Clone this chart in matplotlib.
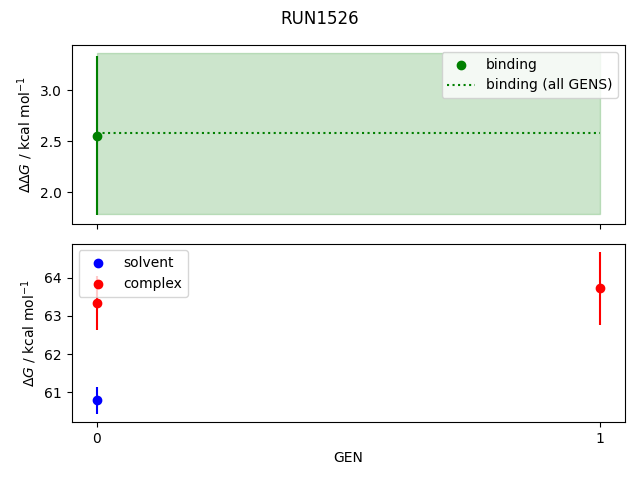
import matplotlib
matplotlib.use("Agg")
import matplotlib.pyplot as plt
import numpy as np

gens = [0, 1]
binding_gen = [0]
binding = [2.555]
binding_err = [0.785]
binding_all = 2.577
binding_all_err = 0.79

solvent_gen = [0]
solvent = [60.79]
solvent_err = [0.35]

complex_gen = [0, 1]
complex_ = [63.33, 63.72]
complex_err = [0.71, 0.96]

fig, (ax1, ax2) = plt.subplots(2, 1, sharex=True, figsize=(6.4, 4.8), dpi=100)
fig.suptitle("RUN1526")

ax1.scatter(binding_gen, binding, color="green", label="binding")
ax1.errorbar(binding_gen, binding, yerr=binding_err, color="green", fmt="none")
ax1.hlines(binding_all, gens[0], gens[-1], color="green", linestyle=":", label="binding (all GENS)")
ax1.fill_between(gens, binding_all - binding_all_err, binding_all + binding_all_err, color="green", alpha=0.2)
ax1.set_ylabel(r"$\Delta\Delta G$ / kcal mol$^{-1}$")
ax1.legend(loc="upper right")

ax2.scatter(solvent_gen, solvent, color="blue", label="solvent")
ax2.errorbar(solvent_gen, solvent, yerr=solvent_err, color="blue", fmt="none")
ax2.scatter(complex_gen, complex_, color="red", label="complex")
ax2.errorbar(complex_gen, complex_, yerr=complex_err, color="red", fmt="none")
ax2.set_ylabel(r"$\Delta G$ / kcal mol$^{-1}$")
ax2.set_xlabel("GEN")
ax2.set_xticks(gens)
ax2.legend(loc="upper left")

fig.tight_layout()
fig.subplots_adjust(top=1 - 45 / 480, bottom=1 - 422 / 480, hspace=20 / 178.5)
fig.savefig("out.png")
